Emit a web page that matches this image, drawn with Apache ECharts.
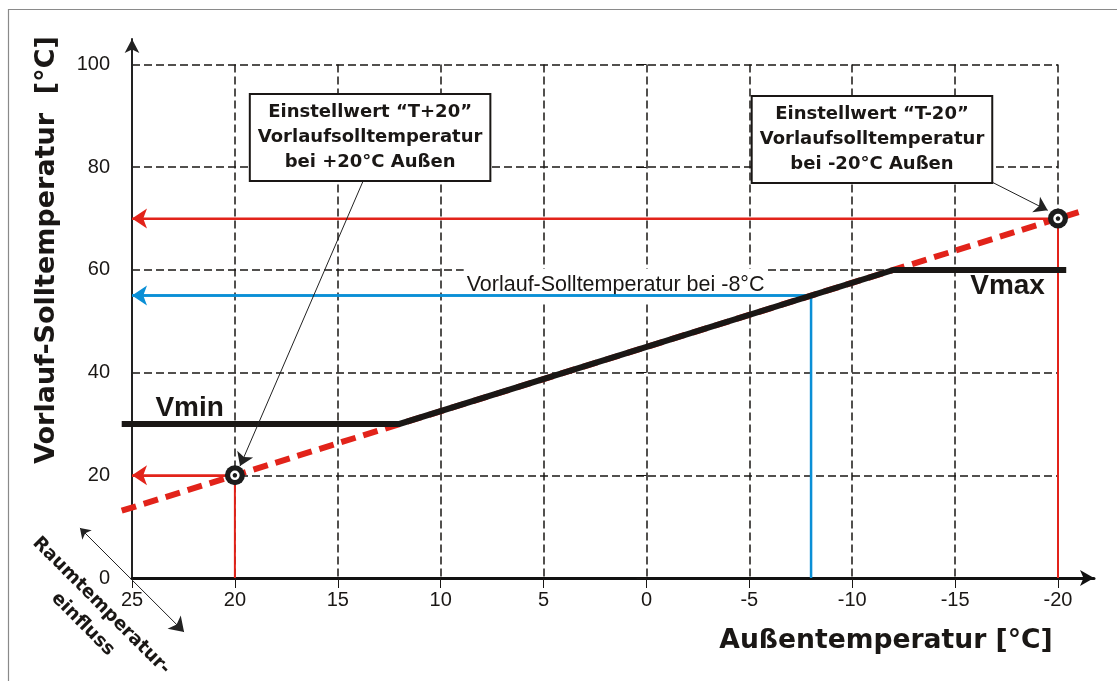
<!DOCTYPE html>
<html><head><meta charset="utf-8">
<script src="https://cdn.jsdelivr.net/npm/echarts@6/dist/echarts.min.js"></script>
<style>html,body{margin:0;padding:0;background:#fff}#c{width:1117px;height:681px}</style>
</head><body><div id="c"></div>
<script>
// ---- data ----
const xTickStep = 5;            // Außentemperatur ticks 25 ... -20
const xRange = [-20, 25];
const yRange = [0, 100];
const yTickStep = 20;
const heatingCurve = [[25.5, 13.1], [-21, 71.25]];           // red dashed Heizkurve
const limitedCurve = [[25.5, 30], [12, 30], [-12, 60], [-20.4, 60]]; // black, Vmin/Vmax
const setPoints = [[20, 20], [-20, 70]];                      // T+20 / T-20
const guideRedLow = [[20, 0], [20, 20], [25, 20]];
const guideRedHigh = [[-20, 0], [-20, 70], [25, 70]];
const guideBlue = [[-8, 0], [-8, 55], [25, 55]];
const arrowRedLow = [[20, 20], [25, 20]];
const arrowRedHigh = [[-20, 70], [25, 70]];
const arrowBlue = [[-8, 55], [25, 55]];
const boxTexts = [
  ['Einstellwert “T+20”', 'Vorlaufsolltemperatur', 'bei +20°C Außen'],
  ['Einstellwert “T-20”', 'Vorlaufsolltemperatur', 'bei -20°C Außen']
];
const boxAnchors = [[13.43, 85.8], [-10.96, 85.4]];
const leader1 = [[13.77, 77.3], [19.75, 21.8]];
const leader2 = [[-16.79, 77.1], [-19.5, 71.6]];
const raumArrow = [[27.53, 9.74], [22.47, -10.5]];
const limitLabels = [{name: 'Vmin', pos: [22.2, 33.1]}, {name: 'Vmax', pos: [-17.55, 56.8]}];
const blueLabel = {text: 'Vorlauf-Solltemperatur bei -8°C', pos: [1.5, 57.06]};
const yTitle = 'Vorlauf-Solltemperatur  [°C]';
const xTitle = 'Außentemperatur [°C]';
const raumText = 'Raumtemperatur-\neinfluss';

const RED = '#e2231a', BLUE = '#0a8fd6', INK = '#1a1715';
const chart = echarts.init(document.getElementById('c'));

function polySeries(name, coords, lineStyle, z, symbols, size) {
  return {
    type: 'lines', name: name, coordinateSystem: 'cartesian2d', xAxisIndex: 0, yAxisIndex: 0,
    polyline: coords.length > 2, clip: false, silent: true, z: z,
    symbol: symbols || ['none', 'none'], symbolSize: size || 10,
    lineStyle: Object.assign({opacity: 1, type: 'solid'}, lineStyle),
    emphasis: {disabled: true},
    data: [{coords: coords}]
  };
}
function textSeries(name, items, label, z) {
  return {
    type: 'scatter', name: name, z: z, silent: true, symbolSize: 1,
    itemStyle: {color: 'rgba(0,0,0,0)', opacity: 1},
    emphasis: {disabled: true},
    data: items.map(d => ({value: d.pos, label: {formatter: d.text}})),
    label: Object.assign({show: true, position: 'inside', opacity: 1, align: 'center', verticalAlign: 'middle'}, label)
  };
}

const option = {
  animation: false,
  backgroundColor: '#fff',
  grid: [
    {left: 132, right: 59, top: 64.5, bottom: 103},
    {left: 132, right: 23, top: 39, bottom: 103}
  ],
  xAxis: [
    {gridIndex: 0, type: 'value', min: xRange[0], max: xRange[1], interval: xTickStep, inverse: true,
      axisLine: {show: false},
      axisTick: {show: true, length: 10, lineStyle: {color: INK, width: 1}},
      axisLabel: {margin: 12, fontFamily: 'Liberation Sans', fontSize: 20, color: INK},
      splitLine: {show: true, lineStyle: {color: INK, width: 1.5, type: [8, 4]}}},
    {gridIndex: 1, type: 'value', min: 0, max: 1,
      axisLine: {show: true, symbol: ['none', 'arrow'], symbolSize: [12, 14], lineStyle: {color: '#111', width: 3}},
      axisTick: {show: false}, axisLabel: {show: false}, splitLine: {show: false}}
  ],
  yAxis: [
    {gridIndex: 0, type: 'value', min: yRange[0], max: yRange[1], interval: yTickStep,
      axisLine: {show: false},
      axisTick: {show: true, length: 10, lineStyle: {color: INK, width: 1}},
      axisLabel: {margin: 22, fontFamily: 'Liberation Sans', fontSize: 20, color: INK},
      splitLine: {show: true, lineStyle: {color: INK, width: 1.5, type: [8, 4]}}},
    {gridIndex: 1, type: 'value', min: 0, max: 1,
      axisLine: {show: true, symbol: ['none', 'arrow'], symbolSize: [11, 14], lineStyle: {color: '#222', width: 2}},
      axisTick: {show: false}, axisLabel: {show: false}, splitLine: {show: false}}
  ],
  series: [
    polySeries('Heizkurve', heatingCurve, {color: RED, width: 6, type: [15, 8], cap: 'butt'}, 3),
    polySeries('redLow', guideRedLow, {color: RED, width: 2}, 3),
    polySeries('redHigh', guideRedHigh, {color: RED, width: 2}, 3),
    polySeries('blue', guideBlue, {color: BLUE, width: 2.5}, 3),
    polySeries('arrowRedLow', arrowRedLow, {color: RED, width: 2}, 3, ['none', 'arrow'], [13, 15]),
    polySeries('arrowRedHigh', arrowRedHigh, {color: RED, width: 2}, 3, ['none', 'arrow'], [13, 15]),
    polySeries('arrowBlue', arrowBlue, {color: BLUE, width: 2.5}, 3, ['none', 'arrow'], [13, 15]),
    polySeries('Vorlauf', limitedCurve, {color: INK, width: 6, cap: 'butt', join: 'miter'}, 4),
    polySeries('leader1', leader1, {color: '#222', width: 1}, 5, ['none', 'arrow'], [9, 13]),
    polySeries('leader2', leader2, {color: '#222', width: 1}, 5, ['none', 'arrow'], [9, 13]),
    polySeries('raum', raumArrow, {color: '#222', width: 1}, 5, ['arrow', 'arrow'], [10, 14]),
    {type: 'scatter', name: 'points', data: setPoints, symbol: 'circle', symbolSize: 20, z: 6, silent: true,
      itemStyle: {color: '#1c1c1c', opacity: 1}},
    {type: 'scatter', name: 'pointsInner', data: setPoints, symbol: 'circle', symbolSize: 7, z: 7, silent: true,
      itemStyle: {color: '#1c1c1c', borderColor: '#fff', borderWidth: 2.5, opacity: 1}},
    textSeries('boxes', boxAnchors.map((p, i) => ({pos: p, text: boxTexts[i].join('\n')})),
      {fontFamily: 'DejaVu Sans', fontWeight: 'bold', fontSize: 18, lineHeight: 25, color: INK,
        backgroundColor: '#fff', borderColor: INK, borderWidth: 2, padding: [5, 7, 5, 7]}, 8),
    textSeries('limitLabels', limitLabels.map(d => ({pos: d.pos, text: d.name})),
      {fontFamily: 'Liberation Sans', fontWeight: 'bold', fontSize: 28, color: INK}, 8),
    textSeries('blueLabel', [{pos: blueLabel.pos, text: blueLabel.text}],
      {fontFamily: 'Liberation Sans', fontSize: 21.5, lineHeight: 22, color: INK,
        backgroundColor: '#fff', padding: [5, 3, 5, 3]}, 1)
  ],
  graphic: [
    {type: 'rect', silent: true, z: 100, shape: {x: 8.5, y: 9.5, width: 1300, height: 900},
      style: {fill: 'none', stroke: '#8a8a8a', lineWidth: 1.2}},
    {type: 'text', silent: true, x: 47, y: 250, rotation: Math.PI / 2,
      style: {text: yTitle, font: 'bold 27px "DejaVu Sans"', fill: INK, align: 'center', verticalAlign: 'middle'}},
    {type: 'text', silent: true, x: 886, y: 641,
      style: {text: xTitle, font: 'bold 26.6px "DejaVu Sans"', fill: INK, align: 'center', verticalAlign: 'middle'}},
    {type: 'text', silent: true, x: 92, y: 615, rotation: -Math.PI / 4,
      style: {text: raumText, font: 'bold 18.5px "DejaVu Sans"', fill: INK, align: 'center', verticalAlign: 'middle', lineHeight: 26}}
  ]
};
chart.setOption(option);
</script>
</body></html>
